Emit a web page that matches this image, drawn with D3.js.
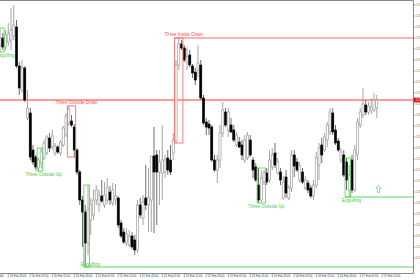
<!DOCTYPE html>
<html>
<head>
<meta charset="utf-8">
<script src="https://cdn.jsdelivr.net/npm/d3@7"></script>
<style>
  html, body { margin: 0; padding: 0; background: #fff; overflow: hidden; }
  svg { display: block; font-family: 'Liberation Sans', Arial, sans-serif; }
</style>
</head>
<body>
<svg id="chart" width="420" height="280"></svg>
<script>
// hourly candles, oldest first
const open = [1.7510,1.7517,1.7508,1.7513,1.7515,1.7519,1.7528,1.7489,1.7465,1.7487,
  1.7437,1.7442,1.7405,1.7398,1.7387,1.7392,1.7397,1.7402,1.7417,1.7408,
  1.7402,1.7408,1.7402,1.7410,1.7420,1.7432,1.7434,1.7428,1.7405,1.7383,
  1.7355,1.7343,1.7312,1.7335,1.7340,1.7355,1.7350,1.7359,1.7350,1.7355,
  1.7363,1.7352,1.7355,1.7357,1.7332,1.7323,1.7312,1.7310,1.7319,1.7315,
  1.7305,1.7350,1.7337,1.7357,1.7350,1.7355,1.7399,1.7400,1.7383,1.7382,
  1.7383,1.7397,1.7395,1.7402,1.7414,1.7490,1.7511,1.7507,1.7493,1.7500,
  1.7489,1.7483,1.7485,1.7490,1.7457,1.7433,1.7431,1.7428,1.7395,1.7385,
  1.7395,1.7422,1.7443,1.7425,1.7430,1.7425,1.7410,1.7413,1.7410,1.7395,
  1.7397,1.7415,1.7395,1.7388,1.7370,1.7355,1.7373,1.7382,1.7375,1.7388,
  1.7402,1.7382,1.7383,1.7357,1.7378,1.7357,1.7367,1.7400,1.7393,1.7375,
  1.7383,1.7367,1.7372,1.7367,1.7359,1.7370,1.7390,1.7410,1.7405,1.7415,
  1.7423,1.7442,1.7425,1.7414,1.7395,1.7400,1.7393,1.7365,1.7395,1.7365,
  1.7400,1.7430,1.7440,1.7450,1.7443,1.7445,1.7445,1.7447];
const high = [1.7527,1.7522,1.7525,1.7532,1.7547,1.7550,1.7535,1.7493,1.7495,1.7489,
  1.7465,1.7447,1.7410,1.7400,1.7397,1.7407,1.7415,1.7420,1.7422,1.7425,
  1.7412,1.7410,1.7415,1.7429,1.7442,1.7449,1.7440,1.7431,1.7407,1.7385,
  1.7359,1.7350,1.7370,1.7357,1.7365,1.7370,1.7365,1.7375,1.7373,1.7377,
  1.7369,1.7372,1.7371,1.7359,1.7335,1.7327,1.7327,1.7325,1.7323,1.7320,
  1.7355,1.7357,1.7360,1.7390,1.7387,1.7383,1.7428,1.7405,1.7405,1.7430,
  1.7400,1.7405,1.7410,1.7422,1.7495,1.7517,1.7515,1.7510,1.7508,1.7505,
  1.7491,1.7487,1.7510,1.7495,1.7460,1.7437,1.7435,1.7430,1.7400,1.7400,
  1.7430,1.7453,1.7447,1.7447,1.7437,1.7430,1.7423,1.7418,1.7415,1.7420,
  1.7423,1.7420,1.7398,1.7392,1.7387,1.7385,1.7385,1.7387,1.7405,1.7407,
  1.7412,1.7397,1.7387,1.7379,1.7385,1.7370,1.7405,1.7405,1.7397,1.7393,
  1.7387,1.7379,1.7375,1.7370,1.7375,1.7403,1.7412,1.7417,1.7422,1.7433,
  1.7447,1.7447,1.7430,1.7417,1.7407,1.7405,1.7397,1.7390,1.7400,1.7410,
  1.7437,1.7447,1.7467,1.7455,1.7453,1.7457,1.7462,1.7460];
const low = [1.7503,1.7505,1.7505,1.7509,1.7505,1.7515,1.7487,1.7460,1.7462,1.7453,
  1.7435,1.7395,1.7390,1.7385,1.7384,1.7387,1.7395,1.7400,1.7403,1.7405,
  1.7399,1.7401,1.7399,1.7408,1.7418,1.7429,1.7428,1.7398,1.7380,1.7350,
  1.7308,1.7288,1.7300,1.7320,1.7335,1.7350,1.7343,1.7352,1.7347,1.7351,
  1.7350,1.7349,1.7350,1.7327,1.7317,1.7311,1.7309,1.7308,1.7306,1.7300,
  1.7302,1.7337,1.7330,1.7345,1.7323,1.7323,1.7322,1.7330,1.7350,1.7355,
  1.7377,1.7380,1.7380,1.7395,1.7412,1.7485,1.7505,1.7493,1.7485,1.7488,
  1.7477,1.7470,1.7478,1.7455,1.7430,1.7420,1.7420,1.7393,1.7383,1.7372,
  1.7387,1.7418,1.7428,1.7418,1.7422,1.7413,1.7408,1.7407,1.7395,1.7392,
  1.7395,1.7398,1.7377,1.7373,1.7352,1.7352,1.7370,1.7370,1.7372,1.7385,
  1.7387,1.7380,1.7370,1.7355,1.7357,1.7355,1.7363,1.7378,1.7383,1.7372,
  1.7371,1.7365,1.7362,1.7357,1.7355,1.7367,1.7375,1.7392,1.7403,1.7408,
  1.7420,1.7420,1.7410,1.7403,1.7392,1.7378,1.7365,1.7358,1.7362,1.7363,
  1.7395,1.7427,1.7437,1.7440,1.7440,1.7441,1.7443,1.7437];
const close = [1.7517,1.7508,1.7520,1.7521,1.7525,1.7530,1.7489,1.7467,1.7487,1.7455,
  1.7447,1.7398,1.7393,1.7388,1.7395,1.7404,1.7412,1.7418,1.7407,1.7419,
  1.7409,1.7403,1.7413,1.7427,1.7439,1.7446,1.7430,1.7405,1.7383,1.7355,
  1.7343,1.7312,1.7345,1.7350,1.7355,1.7365,1.7360,1.7354,1.7360,1.7367,
  1.7355,1.7365,1.7359,1.7330,1.7319,1.7313,1.7321,1.7319,1.7308,1.7305,
  1.7350,1.7340,1.7353,1.7350,1.7357,1.7399,1.7383,1.7383,1.7393,1.7395,
  1.7395,1.7385,1.7383,1.7415,1.7490,1.7511,1.7507,1.7495,1.7498,1.7490,
  1.7482,1.7475,1.7492,1.7457,1.7432,1.7428,1.7427,1.7395,1.7385,1.7395,
  1.7422,1.7445,1.7430,1.7443,1.7423,1.7415,1.7420,1.7408,1.7400,1.7415,
  1.7420,1.7400,1.7385,1.7375,1.7355,1.7377,1.7382,1.7373,1.7395,1.7400,
  1.7390,1.7393,1.7375,1.7373,1.7362,1.7367,1.7400,1.7389,1.7385,1.7389,
  1.7373,1.7375,1.7365,1.7359,1.7370,1.7397,1.7407,1.7400,1.7418,1.7430,
  1.7443,1.7423,1.7412,1.7405,1.7403,1.7380,1.7375,1.7380,1.7365,1.7405,
  1.7433,1.7443,1.7451,1.7443,1.7449,1.7448,1.7455,1.7455];

// bottom axis: one label every 8 bars
const timeTickBars = [-5, 3, 11, 19, 27, 35, 43, 51, 59, 67, 75, 83, 91, 99, 107, 115, 123, 131, 139];
const timeTickLabels = ['17 Feb 2006', '19 Feb 23:00', '20 Feb 07:00', '20 Feb 15:00', '20 Feb 23:00',
  '21 Feb 07:00', '21 Feb 15:00', '21 Feb 23:00', '22 Feb 07:00', '22 Feb 15:00', '22 Feb 23:00',
  '23 Feb 07:00', '23 Feb 15:00', '23 Feb 23:00', '24 Feb 07:00', '24 Feb 15:00', '24 Feb 23:00',
  '27 Feb 07:00', '27 Feb 15:00'];
const priceTicks = [1.7550, 1.7539, 1.7528, 1.7517, 1.7506, 1.7495, 1.7484, 1.7473, 1.7462, 1.7451,
  1.7440, 1.7429, 1.7418, 1.7407, 1.7396, 1.7385, 1.7374, 1.7363, 1.7352, 1.7341,
  1.7330, 1.7319, 1.7308, 1.7297];

// candlestick patterns found by the indicator
const patternNames = ['Engulfing', 'Three Outside Up', 'Three Outside Down', 'Engulfing',
  'Three Inside Down', 'Three Outside Up', 'Engulfing'];
const patternFrom = [0, 14, 25, 31, 64, 94, 126];
const patternTo = [1, 15, 27, 32, 66, 96, 127];
const patternBull = [true, true, false, true, false, true, true];
const patternLevel = [false, false, false, true, true, false, true];
const signalBar = [137.6];
const signalPrice = [1.7366];

const plotRight = 413, plotBottom = 273;
const RED = '#ff6b6b', GREEN = '#5fd85a';

const svg = d3.select('#chart');
const candles = open.map((o, i) => ({ i, o, h: high[i], l: low[i], c: close[i] }));

const x = d3.scaleLinear().domain([0, 150.18]).range([0, plotRight]);
const y = d3.scaleLinear().domain([1.7283, 1.7555]).range([plotBottom - 1, 0]);

svg.append('defs').append('clipPath').attr('id', 'plot')
  .append('rect').attr('x', 0).attr('y', 0).attr('width', plotRight).attr('height', plotBottom);

const plot = svg.append('g').attr('clip-path', 'url(#plot)');

// current bid line
const bid = close[close.length - 1];
plot.append('line')
  .attr('x1', 0).attr('x2', plotRight)
  .attr('y1', y(bid)).attr('y2', y(bid))
  .attr('stroke', '#ff7a7a').attr('stroke-width', 1.3);

// candles
const bodyW = 2.1;
const bars = plot.selectAll('g.bar').data(candles).join('g').attr('class', 'bar');
bars.append('line')
  .attr('x1', d => x(d.i)).attr('x2', d => x(d.i))
  .attr('y1', d => y(d.h)).attr('y2', d => y(d.l))
  .attr('stroke', d => d.c >= d.o ? '#8f8f8f' : '#4a4a4a')
  .attr('stroke-width', 0.8);
bars.append('rect')
  .attr('x', d => x(d.i) - bodyW / 2)
  .attr('width', bodyW)
  .attr('y', d => y(Math.max(d.o, d.c)))
  .attr('height', d => Math.max(0.8, Math.abs(y(d.o) - y(d.c))))
  .attr('fill', d => d.c >= d.o ? '#fff' : '#000')
  .attr('stroke', d => d.c >= d.o ? '#8f8f8f' : '#000')
  .attr('stroke-width', 0.6);

// patterns: box round the bars, label, and the level line where it still holds
const patterns = patternNames.map((name, k) => {
  const hi = d3.max(high.slice(patternFrom[k], patternTo[k] + 1));
  const lo = d3.min(low.slice(patternFrom[k], patternTo[k] + 1));
  return { name, from: patternFrom[k], to: patternTo[k], bull: patternBull[k], level: patternLevel[k], hi, lo };
});

const pg = plot.selectAll('g.pattern').data(patterns).join('g').attr('class', 'pattern');
pg.append('rect')
  .attr('x', d => x(d.from) - 1.4)
  .attr('width', d => x(d.to) - x(d.from) + 2.8)
  .attr('y', d => y(d.hi))
  .attr('height', d => y(d.lo) - y(d.hi))
  .attr('fill', 'none')
  .attr('stroke', d => d.bull ? GREEN : RED)
  .attr('stroke-width', 0.9);
pg.filter(d => d.level).append('line')
  .attr('x1', d => x(d.from) - 1.4).attr('x2', plotRight)
  .attr('y1', d => d.bull ? y(d.lo) : y(d.hi))
  .attr('y2', d => d.bull ? y(d.lo) : y(d.hi))
  .attr('stroke', d => d.bull ? GREEN : RED)
  .attr('stroke-width', 1.2);
pg.append('text')
  .attr('x', d => x(d.to) + 2.3)
  .attr('y', d => d.bull ? Math.min(y(d.lo) + 5, plotBottom - 7.5) : y(d.hi) - 2)
  .attr('text-anchor', 'middle')
  .attr('font-size', 4.6)
  .attr('fill', d => d.bull ? '#4cc94a' : '#ff4d4d')
  .text(d => d.name);

// buy signal arrow
plot.selectAll('path.signal').data(signalBar).join('path')
  .attr('class', 'signal')
  .attr('transform', (d, k) => 'translate(' + x(d) + ',' + y(signalPrice[k]) + ')')
  .attr('d', 'M0,-3.6L2.6,-0.6L1.1,-0.6L1.1,3.4L-1.1,3.4L-1.1,-0.6L-2.6,-0.6Z')
  .attr('fill', 'none')
  .attr('stroke', GREEN)
  .attr('stroke-width', 0.7);

// frame
svg.append('path')
  .attr('d', 'M0,0.5H' + (plotRight + 0.5) + 'V' + (plotBottom + 0.5) + 'H0')
  .attr('fill', 'none').attr('stroke', '#8a8a8a').attr('stroke-width', 1);

// price axis (labels run off the window edge, as in the screenshot)
const yAxis = svg.append('g');
yAxis.selectAll('line').data(priceTicks).join('line')
  .attr('x1', plotRight).attr('x2', plotRight + 2.5)
  .attr('y1', d => y(d)).attr('y2', d => y(d))
  .attr('stroke', '#666').attr('stroke-width', 0.6);
yAxis.selectAll('text').data(priceTicks).join('text')
  .attr('x', plotRight + 3.2).attr('y', d => y(d) + 1)
  .attr('font-size', 3.1).attr('fill', '#333')
  .text(d3.format('.4f'));

// bid price tag
svg.append('rect')
  .attr('x', plotRight + 0.5).attr('y', y(bid) - 2.4)
  .attr('width', 9).attr('height', 4.8).attr('fill', '#d91c1c');
svg.append('text')
  .attr('x', plotRight + 3.2).attr('y', y(bid) + 1.1)
  .attr('font-size', 3.1).attr('fill', '#fff')
  .text(d3.format('.4f')(bid));

// time axis
const xAxis = svg.append('g');
xAxis.selectAll('line').data(timeTickBars).join('line')
  .attr('x1', d => x(d)).attr('x2', d => x(d))
  .attr('y1', plotBottom).attr('y2', plotBottom + 4)
  .attr('stroke', '#666').attr('stroke-width', 0.6);
xAxis.selectAll('text').data(timeTickBars).join('text')
  .attr('x', d => x(d) + 1.5).attr('y', plotBottom + 3.6)
  .attr('font-size', 2.8).attr('fill', '#333')
  .text((d, k) => timeTickLabels[k]);
</script>
</body>
</html>
